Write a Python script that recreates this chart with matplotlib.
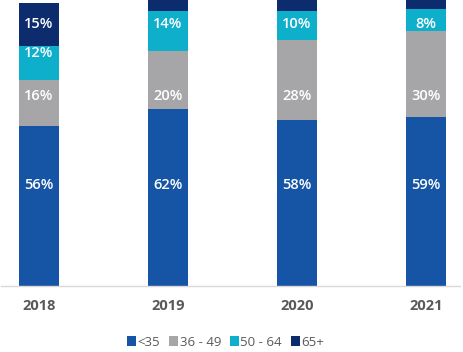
import matplotlib
matplotlib.use("Agg")
import matplotlib.pyplot as plt
from matplotlib.patches import Patch

# data
anios = ["2018", "2019", "2020", "2021"]
grupos = ["<35", "36 - 49", "50 - 64", "65+"]
menor35 = [56, 62, 58, 59]
de36a49 = [16, 20, 28, 30]
de50a64 = [12, 14, 10, 8]
mas65 = [15, 4, 4, 3]
mostrar_65 = [True, False, False, False]

colores = ["#1655a5", "#a6a6a9", "#0eafcb", "#0c2c6e"]

plt.rcParams["font.family"] = ["Open Sans", "DejaVu Sans"]

fig = plt.figure(figsize=(4.63, 3.52), dpi=100)
ax = fig.add_axes([1 / 463, 66 / 352, 459 / 463, 286 / 352])

x = list(range(len(anios)))
series = [menor35, de36a49, de50a64, mas65]
base = [0] * len(anios)
for serie, color in zip(series, colores):
    ax.bar(x, serie, bottom=base, width=0.31, color=color, zorder=2)
    base = [b + v for b, v in zip(base, serie)]

# label positions (the original chart puts them at fixed heights)
estilo = dict(color="white", ha="center", va="center", fontsize=10.5, fontweight="semibold")
for i in x:
    ax.text(i, 35.3, f"{menor35[i]}%", **estilo)
    ax.text(i, 66.4, f"{de36a49[i]}%", **estilo)
    if mostrar_65[i]:
        ax.text(i, 81.5, f"{de50a64[i]}%", **estilo)
        ax.text(i, 91.6, f"{mas65[i]}%", **estilo)
    else:
        ax.text(i, 91.6, f"{de50a64[i]}%", **estilo)

ax.set_ylim(0, 100)
ax.set_xlim(-0.294, 3.264)
ax.set_yticks([])
ax.set_xticks(x)
ax.set_xticklabels(anios, color="#595959", fontsize=10.5, fontweight="bold")
ax.tick_params(axis="x", length=0, pad=9)
for lado in ["top", "left", "right"]:
    ax.spines[lado].set_visible(False)
ax.spines["bottom"].set_color("#d9d9d9")
ax.spines["bottom"].set_linewidth(1)
ax.spines["bottom"].set_zorder(3)

handles = [Patch(facecolor=c, edgecolor="none") for c in colores]
fig.legend(handles, grupos, loc="center", bbox_to_anchor=(0.487, 0.028), ncol=4,
           frameon=False, fontsize=9.5, handlelength=0.7, handleheight=0.7,
           handletextpad=0.12, columnspacing=0.65, labelcolor="#595959")

fig.savefig("out.png", dpi=100)
